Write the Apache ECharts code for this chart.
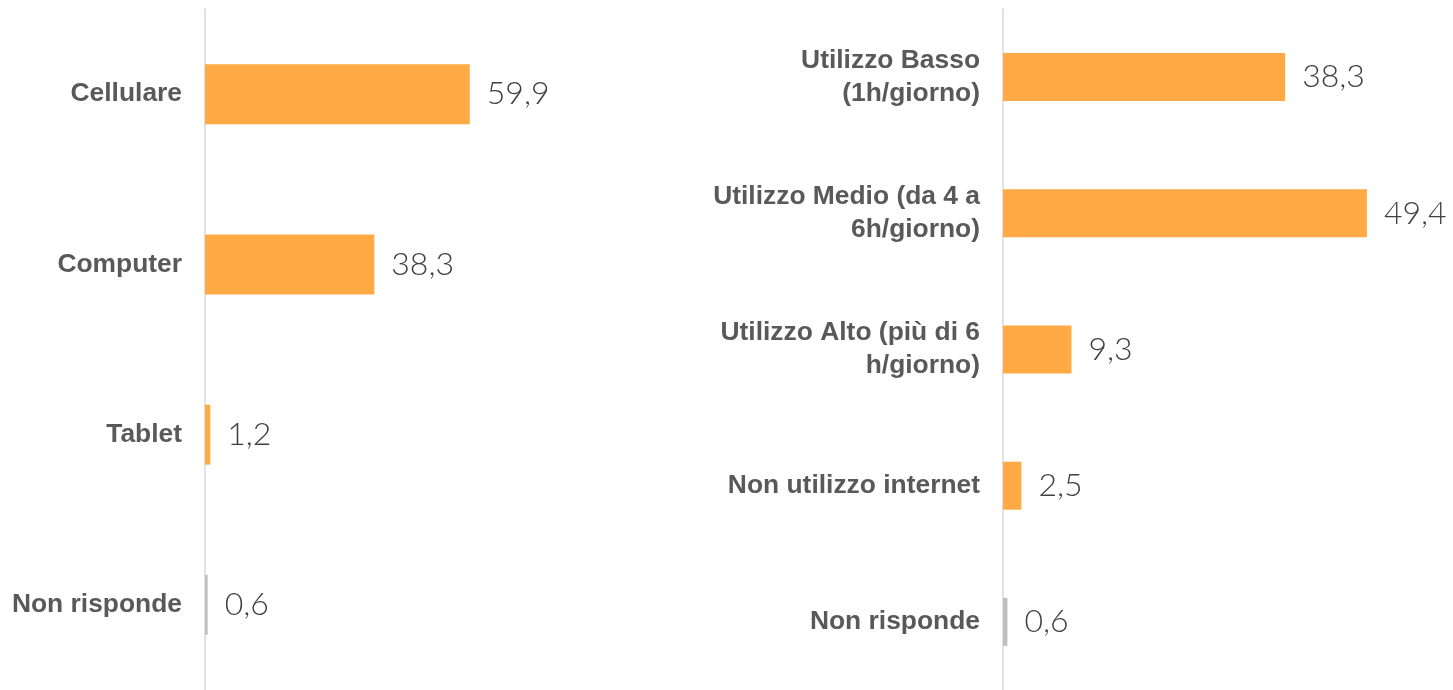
<!DOCTYPE html>
<html lang="it" style="height: 100%">
<head>
  <meta charset="utf-8">
</head>
<body style="height: 100%; margin: 0; background: #fff">
  <div id="container" style="width: 1453px; height: 690px"></div>

  <script type="text/javascript" src="https://cdn.jsdelivr.net/npm/echarts@6/dist/echarts.min.js"></script>

  <script type="text/javascript">
    // dispositivo usato
    var deviceCats = ['Cellulare', 'Computer', 'Tablet', 'Non risponde'];
    var deviceVals = [59.9, 38.3, 1.2, 0.6];
    // ore di utilizzo
    var usageCats = ['Utilizzo Basso\n(1h/giorno)', 'Utilizzo Medio (da 4 a\n6h/giorno)', 'Utilizzo Alto (più di 6\nh/giorno)', 'Non utilizzo internet', 'Non risponde'];
    var usageVals = [38.3, 49.4, 9.3, 2.5, 0.6];

    var ORANGE = '#FFAA44';
    var GREY = '#BFBFBF';

    function colored(cats, vals) {
      return vals.map(function (v, i) {
        return {
          value: v,
          itemStyle: { color: cats[i] === 'Non risponde' ? GREY : ORANGE }
        };
      });
    }

    var valueLabel = {
      show: true,
      position: 'right',
      distance: 17,
      color: '#404040',
      fontFamily: 'Lato',
      fontWeight: 300,
      fontSize: 32,
      padding: [3, 0, 0, 0],
      formatter: function (p) { return p.value.toFixed(1).replace('.', ','); }
    };

    function catAxis(idx, cats) {
      return {
        type: 'category',
        gridIndex: idx,
        data: cats,
        inverse: true,
        axisTick: { show: false },
        axisLine: { lineStyle: { color: '#D9D9D9', width: 1.5 } },
        axisLabel: {
          margin: 23,
          color: '#595959',
          fontFamily: '"Liberation Sans", Arial, sans-serif',
          fontWeight: 'bold',
          fontSize: 26.4,
          lineHeight: 33,
          padding: [6, 0, 0, 0],
          align: 'right'
        }
      };
    }

    var myChart = echarts.init(document.getElementById('container'), null, { renderer: 'canvas' });
    var option = {
      animation: false,
      grid: [
        { left: 205, top: 9, width: 442, height: 684 },
        { left: 1003, top: 9, width: 442, height: 684 }
      ],
      xAxis: [
        { type: 'value', gridIndex: 0, min: 0, max: 100, show: false },
        { type: 'value', gridIndex: 1, min: 0, max: 60, show: false }
      ],
      yAxis: [catAxis(0, deviceCats), catAxis(1, usageCats)],
      series: [
        {
          type: 'bar', xAxisIndex: 0, yAxisIndex: 0,
          barWidth: 60,
          data: colored(deviceCats, deviceVals),
          label: valueLabel
        },
        {
          type: 'bar', xAxisIndex: 1, yAxisIndex: 1,
          barWidth: 48,
          data: colored(usageCats, usageVals),
          label: valueLabel
        }
      ]
    };
    myChart.setOption(option);
    window.addEventListener('resize', myChart.resize);
  </script>
</body>
</html>
